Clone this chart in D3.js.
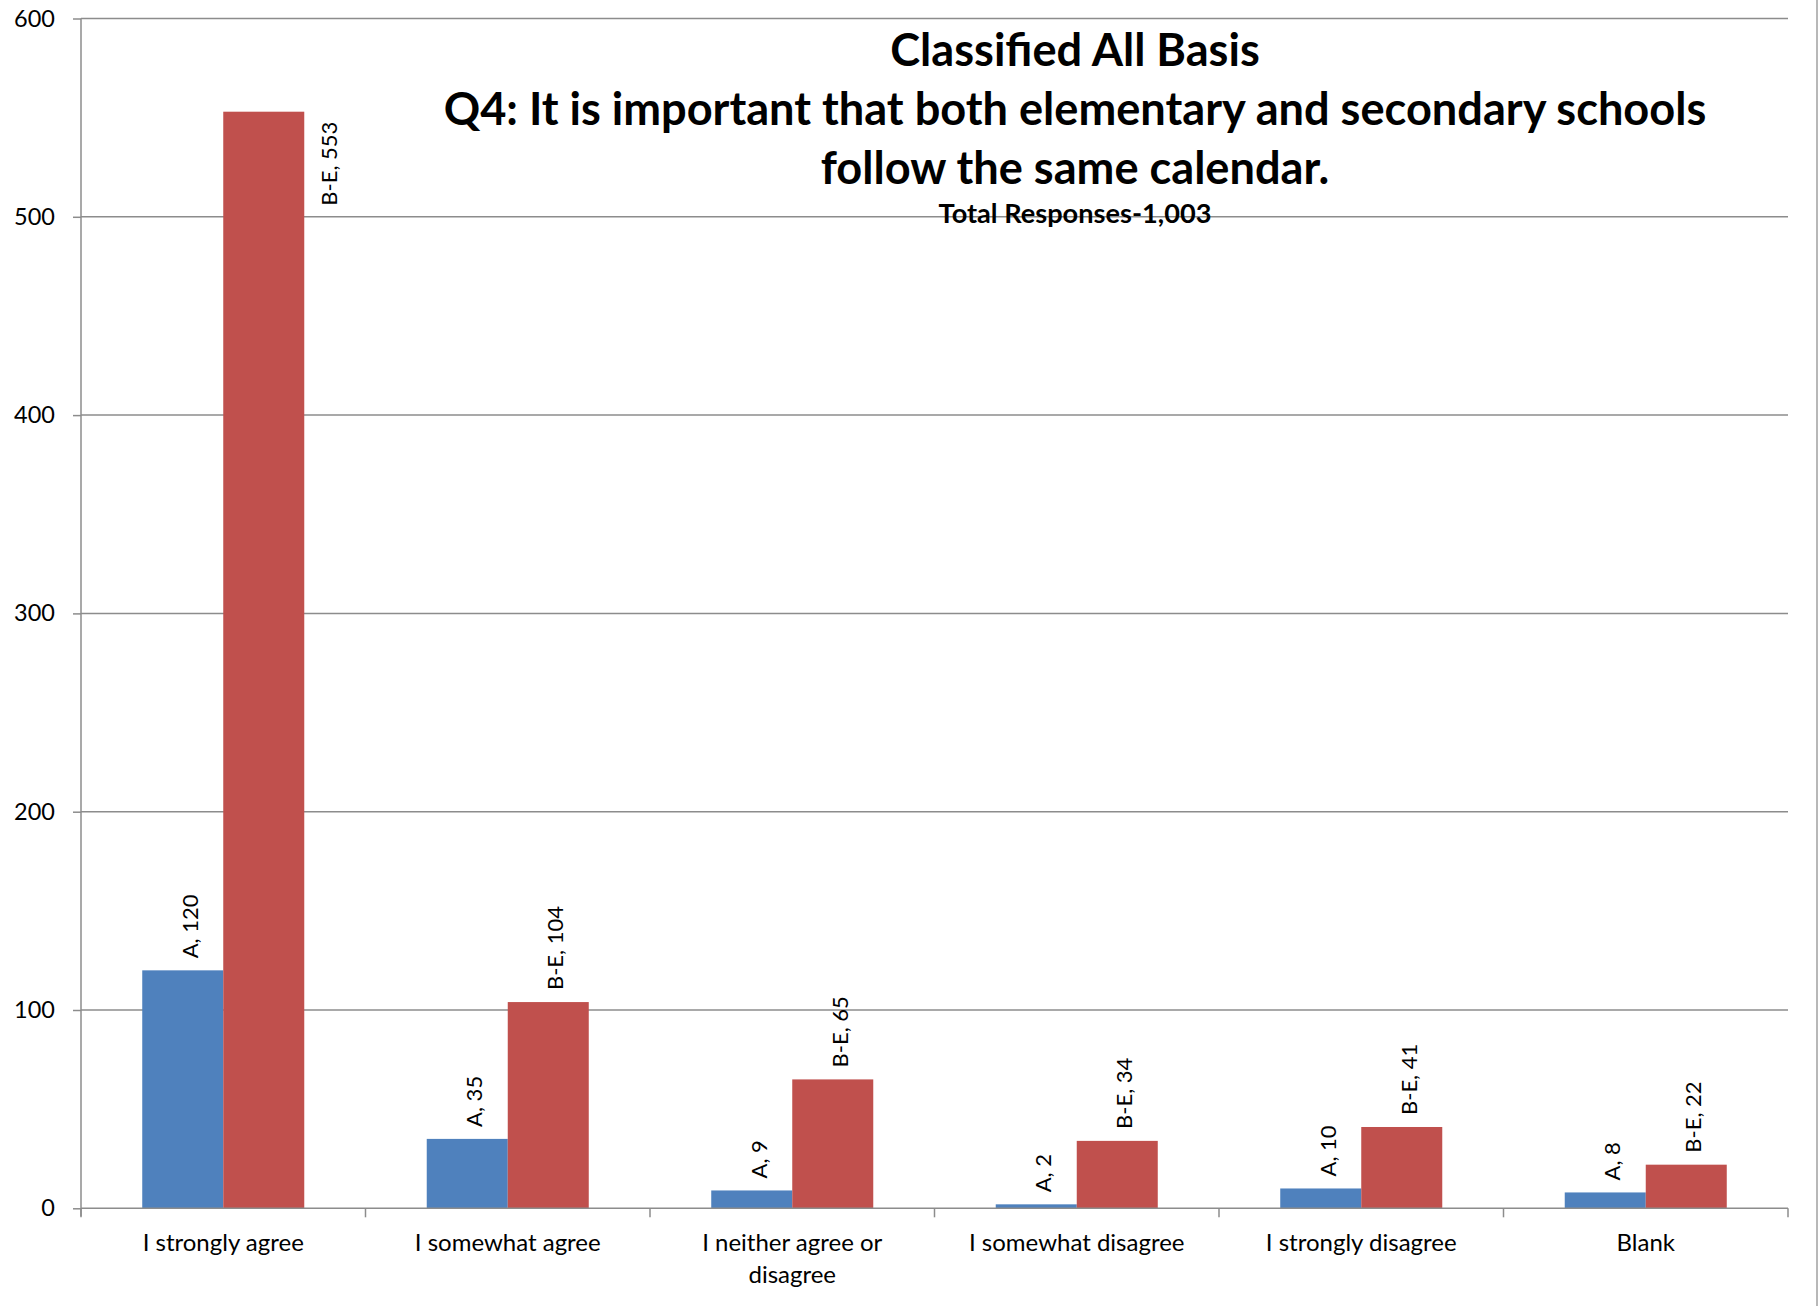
<!DOCTYPE html>
<html><head><meta charset="utf-8">
<script src="https://cdn.jsdelivr.net/npm/d3@7"></script>
<style>body{margin:0;background:#fff}svg{display:block}</style>
</head><body>
<script>
const categories = ["I strongly agree","I somewhat agree","I neither agree or disagree","I somewhat disagree","I strongly disagree","Blank"];
const categoryLines = [["I strongly agree"],["I somewhat agree"],["I neither agree or","disagree"],["I somewhat disagree"],["I strongly disagree"],["Blank"]];
const seriesNames = ["A","B-E"];
const seriesA = [120,35,9,2,10,8];
const seriesBE = [553,104,65,34,41,22];
const yTicks = [0,100,200,300,400,500,600];
const titleLines = ["Classified All Basis","Q4: It is important that both elementary and secondary schools","follow the same calendar."];
const subtitle = "Total Responses-1,003";
const colors = {"A":"#4F81BD","B-E":"#C0504D"};

(function(){
const W=1818,H=1306;
const pL=81,pR=1788,pT=18.5,pB=1208.3;
const svg=d3.select("body").append("svg").attr("width",W).attr("height",H);
const font="Lato, 'Open Sans', sans-serif";

const y=d3.scaleLinear().domain([0,600]).range([pB,pT]);
const x=d3.scaleBand().domain(categories).range([pL,pR]).padding(0);
const x1=d3.scaleBand().domain(seriesNames).range([0,x.bandwidth()]).paddingInner(0).paddingOuter(0.756);

// right border
svg.append("line").attr("x1",1817).attr("x2",1817).attr("y1",0).attr("y2",H).attr("stroke","#a0a0a0").attr("stroke-width",1.5);

// gridlines
svg.append("g").selectAll("line").data(yTicks.filter(t=>t>0)).join("line")
  .attr("x1",pL).attr("x2",pR).attr("y1",d=>y(d)).attr("y2",d=>y(d))
  .attr("stroke","#8c8c8c").attr("stroke-width",1.5);

// bars
const data=categories.map((c,i)=>({c,vals:[{s:"A",v:seriesA[i]},{s:"B-E",v:seriesBE[i]}]}));
const g=svg.append("g").selectAll("g").data(data).join("g").attr("transform",d=>`translate(${x(d.c)},0)`);
g.selectAll("rect").data(d=>d.vals).join("rect")
  .attr("x",d=>x1(d.s)).attr("width",x1.bandwidth())
  .attr("y",d=>y(d.v)).attr("height",d=>y(0)-y(d.v))
  .attr("fill",d=>colors[d.s]);
const lfs=22;
g.selectAll("text").data(d=>d.vals).join("text")
  .attr("font-family",font).attr("font-size",lfs).attr("fill","#000")
  .text(d=>`${d.s}, ${d.v}`)
  .each(function(d){
    const t=d3.select(this);
    const len=this.getComputedTextLength();
    const cxb=x1(d.s)+x1.bandwidth()/2;
    if(y(d.v)-12-len<pT){
      // does not fit above: place beside the bar, right side
      t.attr("transform",`translate(${x1(d.s)+x1.bandwidth()+33},${y(d.v)+10+len}) rotate(-90)`);
    } else {
      t.attr("transform",`translate(${cxb+15},${y(d.v)-12}) rotate(-90)`);
    }
  });

// y axis
const yAxis=d3.axisLeft(y).tickValues(yTicks).tickSize(8).tickPadding(18);
const ya=svg.append("g").attr("transform",`translate(${pL},0)`).call(yAxis);
ya.select(".domain").attr("stroke","#8c8c8c").attr("stroke-width",1.5).attr("d",`M0,${pT}V${pB+8}`);
ya.selectAll(".tick line").attr("stroke","#8c8c8c").attr("stroke-width",1.5);
ya.selectAll(".tick text").attr("font-family",font).attr("font-size",23.5).attr("fill","#000");

// x axis
svg.append("line").attr("x1",pL).attr("x2",pR).attr("y1",pB).attr("y2",pB).attr("stroke","#8c8c8c").attr("stroke-width",1.5);
const bounds=categories.map(c=>x(c)).concat([pR]);
svg.append("g").selectAll("line").data(bounds).join("line")
  .attr("x1",d=>d).attr("x2",d=>d).attr("y1",pB).attr("y2",pB+9)
  .attr("stroke","#8c8c8c").attr("stroke-width",1.5);
svg.append("g").selectAll("text").data(categories).join("text")
  .attr("x",c=>x(c)+x.bandwidth()/2).attr("y",1251)
  .attr("text-anchor","middle").attr("font-family",font).attr("font-size",24).attr("fill","#000")
  .each(function(c,i){
    d3.select(this).selectAll("tspan").data(categoryLines[i]).join("tspan")
      .attr("x",x(c)+x.bandwidth()/2).attr("dy",(d,j)=>j===0?0:32).text(d=>d);
  });

// title
const cx=1075;
const tl=svg.append("g");
const t2=tl.append("text").attr("font-family",font).attr("font-weight","bold").attr("font-size",40).text(titleLines[1]);
const w2=t2.node().getComputedTextLength();
const fs=40*1263/w2; t2.remove();
const baselines=[66,125,184];
titleLines.forEach((t,i)=>{
  tl.append("text").attr("x",cx).attr("y",baselines[i]).attr("text-anchor","middle")
    .attr("font-family",font).attr("font-weight","bold").attr("font-size",fs).attr("fill","#000").text(t);
});
const st=tl.append("text").attr("x",cx).attr("y",223).attr("text-anchor","middle")
  .attr("font-family",font).attr("font-weight","bold").attr("font-size",20).attr("fill","#000").text(subtitle);
const sw=st.node().getComputedTextLength();
st.attr("font-size",20*273/sw);
})();
</script>
</body></html>
